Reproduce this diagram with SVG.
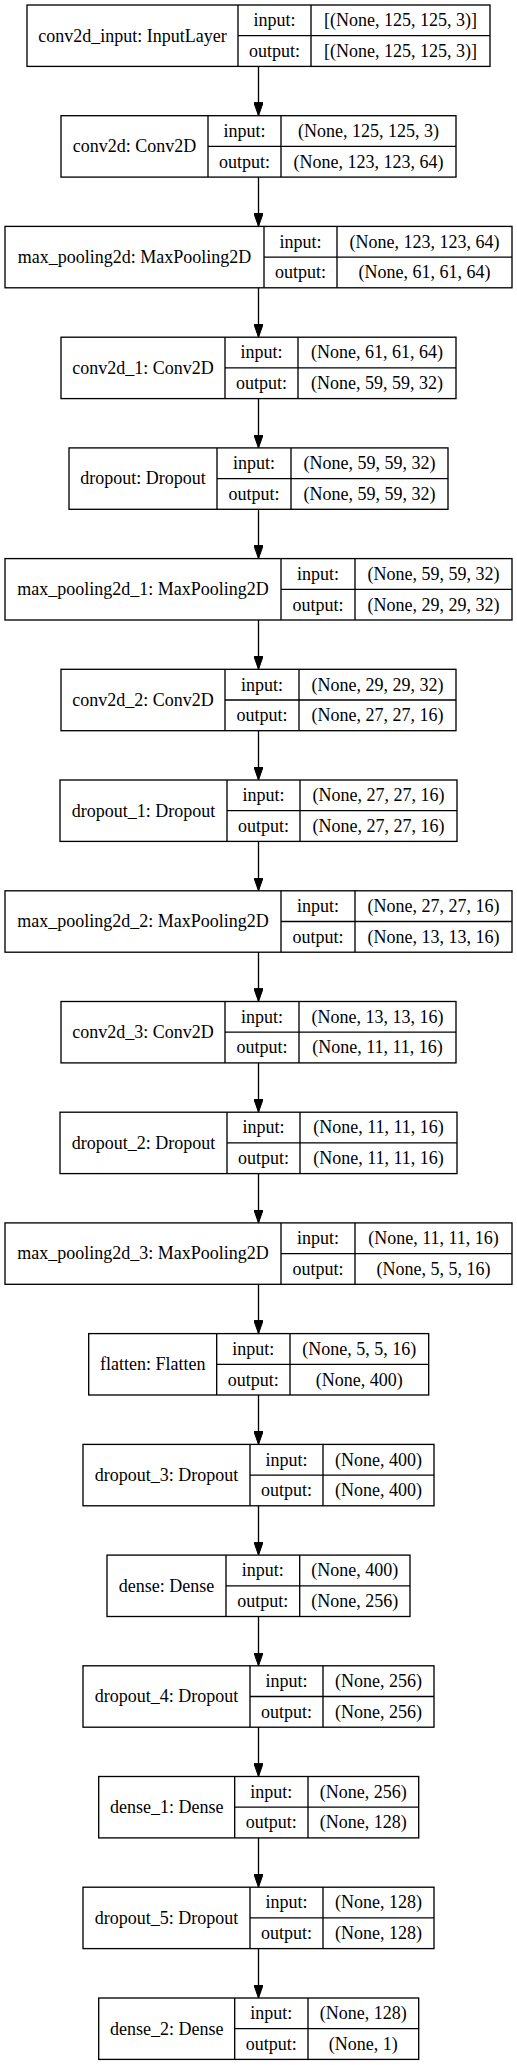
<svg xmlns="http://www.w3.org/2000/svg" width="517" height="2065" viewBox="0 0 517 2065">
<style>
.b{fill:none;stroke:#000;stroke-width:1.33}
.e{fill:none;stroke:#000;stroke-width:1.33}
text{font-family:"Liberation Serif","Times New Roman",serif;font-size:18px;text-anchor:middle;fill:#000}
</style>
<defs>
<marker id="ah" markerUnits="userSpaceOnUse" markerWidth="13.3" markerHeight="9.4" viewBox="0 0 13.3 9.4" refX="13.3" refY="4.7" orient="auto">
<path d="M0,0 L13.3,4.7 L0,9.4 z" fill="#000" stroke="#000" stroke-width="1"/>
</marker>
</defs>
<rect width="517" height="2065" fill="#fff"/>
<g id="connectors">
<line class="e" x1="258.5" y1="66.4" x2="258.5" y2="115.7" marker-end="url(#ah)"/>
<line class="e" x1="258.5" y1="177.1" x2="258.5" y2="226.4" marker-end="url(#ah)"/>
<line class="e" x1="258.5" y1="287.8" x2="258.5" y2="337.2" marker-end="url(#ah)"/>
<line class="e" x1="258.5" y1="398.6" x2="258.5" y2="447.9" marker-end="url(#ah)"/>
<line class="e" x1="258.5" y1="509.3" x2="258.5" y2="558.6" marker-end="url(#ah)"/>
<line class="e" x1="258.5" y1="620.0" x2="258.5" y2="669.3" marker-end="url(#ah)"/>
<line class="e" x1="258.5" y1="730.7" x2="258.5" y2="780.0" marker-end="url(#ah)"/>
<line class="e" x1="258.5" y1="841.4" x2="258.5" y2="890.8" marker-end="url(#ah)"/>
<line class="e" x1="258.5" y1="952.2" x2="258.5" y2="1001.5" marker-end="url(#ah)"/>
<line class="e" x1="258.5" y1="1062.9" x2="258.5" y2="1112.2" marker-end="url(#ah)"/>
<line class="e" x1="258.5" y1="1173.6" x2="258.5" y2="1222.9" marker-end="url(#ah)"/>
<line class="e" x1="258.5" y1="1284.3" x2="258.5" y2="1333.6" marker-end="url(#ah)"/>
<line class="e" x1="258.5" y1="1395.0" x2="258.5" y2="1444.4" marker-end="url(#ah)"/>
<line class="e" x1="258.5" y1="1505.8" x2="258.5" y2="1555.1" marker-end="url(#ah)"/>
<line class="e" x1="258.5" y1="1616.5" x2="258.5" y2="1665.8" marker-end="url(#ah)"/>
<line class="e" x1="258.5" y1="1727.2" x2="258.5" y2="1776.5" marker-end="url(#ah)"/>
<line class="e" x1="258.5" y1="1837.9" x2="258.5" y2="1887.2" marker-end="url(#ah)"/>
<line class="e" x1="258.5" y1="1948.6" x2="258.5" y2="1998.0" marker-end="url(#ah)"/>
</g>
<g id="conv2d_input">
<rect class="b" x="27" y="5" width="463" height="61.4"/>
<path class="b" d="M238,5V66.4M311,5V66.4M238,35.7H490"/>
<text x="132.5" y="41.5">conv2d_input: InputLayer</text>
<text x="274.5" y="26.2">input:</text><text x="274.5" y="56.9">output:</text>
<text x="400.5" y="26.2">[(None, 125, 125, 3)]</text><text x="400.5" y="56.9">[(None, 125, 125, 3)]</text>
</g>
<g id="conv2d">
<rect class="b" x="61" y="115.7" width="395" height="61.4"/>
<path class="b" d="M208,115.7V177.1M281,115.7V177.1M208,146.4H456"/>
<text x="134.5" y="152.2">conv2d: Conv2D</text>
<text x="244.5" y="136.9">input:</text><text x="244.5" y="167.6">output:</text>
<text x="368.5" y="136.9">(None, 125, 125, 3)</text><text x="368.5" y="167.6">(None, 123, 123, 64)</text>
</g>
<g id="max_pooling2d">
<rect class="b" x="5" y="226.4" width="507" height="61.4"/>
<path class="b" d="M264,226.4V287.8M337,226.4V287.8M264,257.1H512"/>
<text x="134.5" y="262.9">max_pooling2d: MaxPooling2D</text>
<text x="300.5" y="247.6">input:</text><text x="300.5" y="278.3">output:</text>
<text x="424.5" y="247.6">(None, 123, 123, 64)</text><text x="424.5" y="278.3">(None, 61, 61, 64)</text>
</g>
<g id="conv2d_1">
<rect class="b" x="61" y="337.2" width="395" height="61.4"/>
<path class="b" d="M225,337.2V398.6M298,337.2V398.6M225,367.9H456"/>
<text x="143" y="373.7">conv2d_1: Conv2D</text>
<text x="261.5" y="358.4">input:</text><text x="261.5" y="389.1">output:</text>
<text x="377" y="358.4">(None, 61, 61, 64)</text><text x="377" y="389.1">(None, 59, 59, 32)</text>
</g>
<g id="dropout">
<rect class="b" x="69" y="447.9" width="379" height="61.4"/>
<path class="b" d="M217,447.9V509.3M291,447.9V509.3M217,478.6H448"/>
<text x="143" y="484.4">dropout: Dropout</text>
<text x="254" y="469.1">input:</text><text x="254" y="499.8">output:</text>
<text x="369.5" y="469.1">(None, 59, 59, 32)</text><text x="369.5" y="499.8">(None, 59, 59, 32)</text>
</g>
<g id="max_pooling2d_1">
<rect class="b" x="5" y="558.6" width="507" height="61.4"/>
<path class="b" d="M281,558.6V620M355,558.6V620M281,589.3H512"/>
<text x="143" y="595.1">max_pooling2d_1: MaxPooling2D</text>
<text x="318" y="579.8">input:</text><text x="318" y="610.5">output:</text>
<text x="433.5" y="579.8">(None, 59, 59, 32)</text><text x="433.5" y="610.5">(None, 29, 29, 32)</text>
</g>
<g id="conv2d_2">
<rect class="b" x="61" y="669.3" width="395" height="61.4"/>
<path class="b" d="M225,669.3V730.7M299,669.3V730.7M225,700H456"/>
<text x="143" y="705.8">conv2d_2: Conv2D</text>
<text x="262" y="690.5">input:</text><text x="262" y="721.2">output:</text>
<text x="377.5" y="690.5">(None, 29, 29, 32)</text><text x="377.5" y="721.2">(None, 27, 27, 16)</text>
</g>
<g id="dropout_1">
<rect class="b" x="60" y="780" width="397" height="61.4"/>
<path class="b" d="M227,780V841.4M300,780V841.4M227,810.7H457"/>
<text x="143.5" y="816.5">dropout_1: Dropout</text>
<text x="263.5" y="801.2">input:</text><text x="263.5" y="831.9">output:</text>
<text x="378.5" y="801.2">(None, 27, 27, 16)</text><text x="378.5" y="831.9">(None, 27, 27, 16)</text>
</g>
<g id="max_pooling2d_2">
<rect class="b" x="5" y="890.8" width="507" height="61.4"/>
<path class="b" d="M281,890.8V952.2M355,890.8V952.2M281,921.5H512"/>
<text x="143" y="927.3">max_pooling2d_2: MaxPooling2D</text>
<text x="318" y="912">input:</text><text x="318" y="942.7">output:</text>
<text x="433.5" y="912">(None, 27, 27, 16)</text><text x="433.5" y="942.7">(None, 13, 13, 16)</text>
</g>
<g id="conv2d_3">
<rect class="b" x="61" y="1001.5" width="395" height="61.4"/>
<path class="b" d="M225,1001.5V1062.9M299,1001.5V1062.9M225,1032.2H456"/>
<text x="143" y="1038">conv2d_3: Conv2D</text>
<text x="262" y="1022.7">input:</text><text x="262" y="1053.4">output:</text>
<text x="377.5" y="1022.7">(None, 13, 13, 16)</text><text x="377.5" y="1053.4">(None, 11, 11, 16)</text>
</g>
<g id="dropout_2">
<rect class="b" x="60" y="1112.2" width="397" height="61.4"/>
<path class="b" d="M227,1112.2V1173.6M300,1112.2V1173.6M227,1142.9H457"/>
<text x="143.5" y="1148.7">dropout_2: Dropout</text>
<text x="263.5" y="1133.4">input:</text><text x="263.5" y="1164.1">output:</text>
<text x="378.5" y="1133.4">(None, 11, 11, 16)</text><text x="378.5" y="1164.1">(None, 11, 11, 16)</text>
</g>
<g id="max_pooling2d_3">
<rect class="b" x="5" y="1222.9" width="507" height="61.4"/>
<path class="b" d="M281,1222.9V1284.3M355,1222.9V1284.3M281,1253.6H512"/>
<text x="143" y="1259.4">max_pooling2d_3: MaxPooling2D</text>
<text x="318" y="1244.1">input:</text><text x="318" y="1274.8">output:</text>
<text x="433.5" y="1244.1">(None, 11, 11, 16)</text><text x="433.5" y="1274.8">(None, 5, 5, 16)</text>
</g>
<g id="flatten">
<rect class="b" x="88.7" y="1333.6" width="340" height="61.4"/>
<path class="b" d="M216.7,1333.6V1395M290,1333.6V1395M216.7,1364.3H428.7"/>
<text x="152.7" y="1370.1">flatten: Flatten</text>
<text x="253.35" y="1354.8">input:</text><text x="253.35" y="1385.5">output:</text>
<text x="359.35" y="1354.8">(None, 5, 5, 16)</text><text x="359.35" y="1385.5">(None, 400)</text>
</g>
<g id="dropout_3">
<rect class="b" x="83" y="1444.4" width="351" height="61.4"/>
<path class="b" d="M250,1444.4V1505.8M323,1444.4V1505.8M250,1475.1H434"/>
<text x="166.5" y="1480.9">dropout_3: Dropout</text>
<text x="286.5" y="1465.6">input:</text><text x="286.5" y="1496.3">output:</text>
<text x="378.5" y="1465.6">(None, 400)</text><text x="378.5" y="1496.3">(None, 400)</text>
</g>
<g id="dense">
<rect class="b" x="107" y="1555.1" width="303" height="61.4"/>
<path class="b" d="M226,1555.1V1616.5M299.7,1555.1V1616.5M226,1585.8H410"/>
<text x="166.5" y="1591.6">dense: Dense</text>
<text x="262.85" y="1576.3">input:</text><text x="262.85" y="1607">output:</text>
<text x="354.85" y="1576.3">(None, 400)</text><text x="354.85" y="1607">(None, 256)</text>
</g>
<g id="dropout_4">
<rect class="b" x="83" y="1665.8" width="351" height="61.4"/>
<path class="b" d="M250,1665.8V1727.2M323,1665.8V1727.2M250,1696.5H434"/>
<text x="166.5" y="1702.3">dropout_4: Dropout</text>
<text x="286.5" y="1687">input:</text><text x="286.5" y="1717.7">output:</text>
<text x="378.5" y="1687">(None, 256)</text><text x="378.5" y="1717.7">(None, 256)</text>
</g>
<g id="dense_1">
<rect class="b" x="98.7" y="1776.5" width="320" height="61.4"/>
<path class="b" d="M234.7,1776.5V1837.9M308,1776.5V1837.9M234.7,1807.2H418.7"/>
<text x="166.7" y="1813">dense_1: Dense</text>
<text x="271.35" y="1797.7">input:</text><text x="271.35" y="1828.4">output:</text>
<text x="363.35" y="1797.7">(None, 256)</text><text x="363.35" y="1828.4">(None, 128)</text>
</g>
<g id="dropout_5">
<rect class="b" x="83" y="1887.2" width="351" height="61.4"/>
<path class="b" d="M250,1887.2V1948.6M323,1887.2V1948.6M250,1917.9H434"/>
<text x="166.5" y="1923.7">dropout_5: Dropout</text>
<text x="286.5" y="1908.4">input:</text><text x="286.5" y="1939.1">output:</text>
<text x="378.5" y="1908.4">(None, 128)</text><text x="378.5" y="1939.1">(None, 128)</text>
</g>
<g id="dense_2">
<rect class="b" x="98.7" y="1998" width="320" height="61.4"/>
<path class="b" d="M234.7,1998V2059.4M308,1998V2059.4M234.7,2028.7H418.7"/>
<text x="166.7" y="2034.5">dense_2: Dense</text>
<text x="271.35" y="2019.2">input:</text><text x="271.35" y="2049.9">output:</text>
<text x="363.35" y="2019.2">(None, 128)</text><text x="363.35" y="2049.9">(None, 1)</text>
</g>
</svg>
